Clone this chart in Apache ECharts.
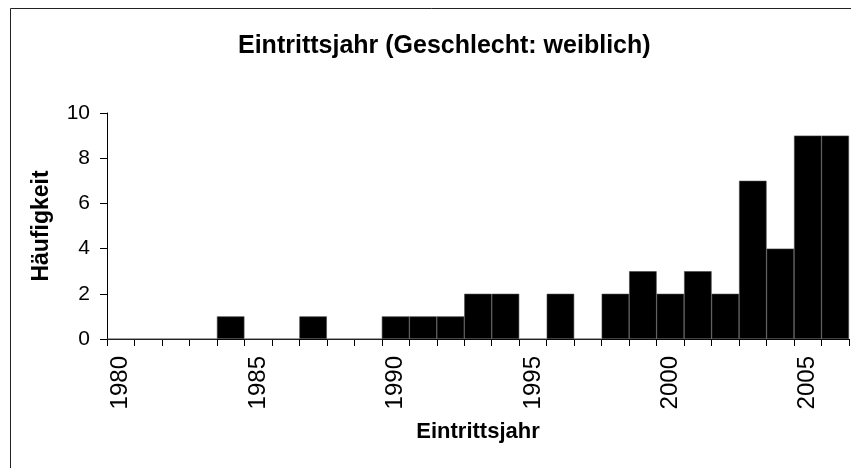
<!DOCTYPE html>
<html>
<head>
<meta charset="utf-8">
<script src="https://cdn.jsdelivr.net/npm/echarts@6/dist/echarts.min.js"></script>
<style>
  html, body { margin: 0; padding: 0; background: #fff; }
  #chart { width: 851px; height: 468px; }
</style>
</head>
<body>
<div id="chart"></div>
<script>
// Eintrittsjahr, Geschlecht weiblich
const years = ['1980', '1981', '1982', '1983', '1984', '1985', '1986', '1987', '1988',
  '1989', '1990', '1991', '1992', '1993', '1994', '1995', '1996', '1997', '1998',
  '1999', '2000', '2001', '2002', '2003', '2004', '2005', '2006'];
const counts = [0, 0, 0, 0, 1, 0, 0, 1, 0, 0, 1, 1, 1, 2, 2, 0, 2, 0, 2, 3, 2, 3, 2, 7, 4, 9, 9];
const yTicks = [0, 2, 4, 6, 8, 10];

const font = '"Liberation Sans", Arial, sans-serif';
const chart = echarts.init(document.getElementById('chart'));

chart.setOption({
  animation: false,
  title: {
    text: 'Eintrittsjahr (Geschlecht: weiblich)',
    left: 233,
    top: 29,
    textStyle: { fontFamily: font, fontSize: 25, fontWeight: 'bold', color: '#000' }
  },
  graphic: [{
    type: 'rect',
    shape: { x: 10.5, y: 8.5, width: 900, height: 500 },
    style: { fill: 'none', stroke: '#222', lineWidth: 1 },
    silent: true
  }],
  grid: { left: 107, right: 2, top: 113, bottom: 129 },
  xAxis: {
    type: 'category',
    data: years,
    name: 'Eintrittsjahr',
    nameLocation: 'middle',
    nameGap: 82,
    nameTextStyle: { fontFamily: font, fontSize: 22, fontWeight: 'bold', color: '#000' },
    axisLine: { lineStyle: { color: '#000', width: 1 } },
    axisTick: { show: true, interval: 0, length: 7, lineStyle: { color: '#000' } },
    axisLabel: {
      interval: 4,
      rotate: 90,
      margin: 17,
      fontFamily: font,
      fontSize: 24,
      color: '#000'
    }
  },
  yAxis: {
    type: 'value',
    min: yTicks[0],
    max: yTicks[yTicks.length - 1],
    interval: 2,
    name: 'Häufigkeit',
    nameLocation: 'middle',
    nameGap: 54,
    nameTextStyle: { fontFamily: font, fontSize: 23, fontWeight: 'bold', color: '#000' },
    axisLine: { show: true, lineStyle: { color: '#000', width: 1 } },
    axisTick: { show: true, length: 7, lineStyle: { color: '#000' } },
    splitLine: { show: false },
    axisLabel: { margin: 17, fontFamily: font, fontSize: 21, color: '#000' }
  },
  series: [{
    type: 'bar',
    data: counts,
    barCategoryGap: '0%',
    itemStyle: { color: '#000', borderColor: '#444', borderWidth: 0.6 }
  }]
});
</script>
</body>
</html>
